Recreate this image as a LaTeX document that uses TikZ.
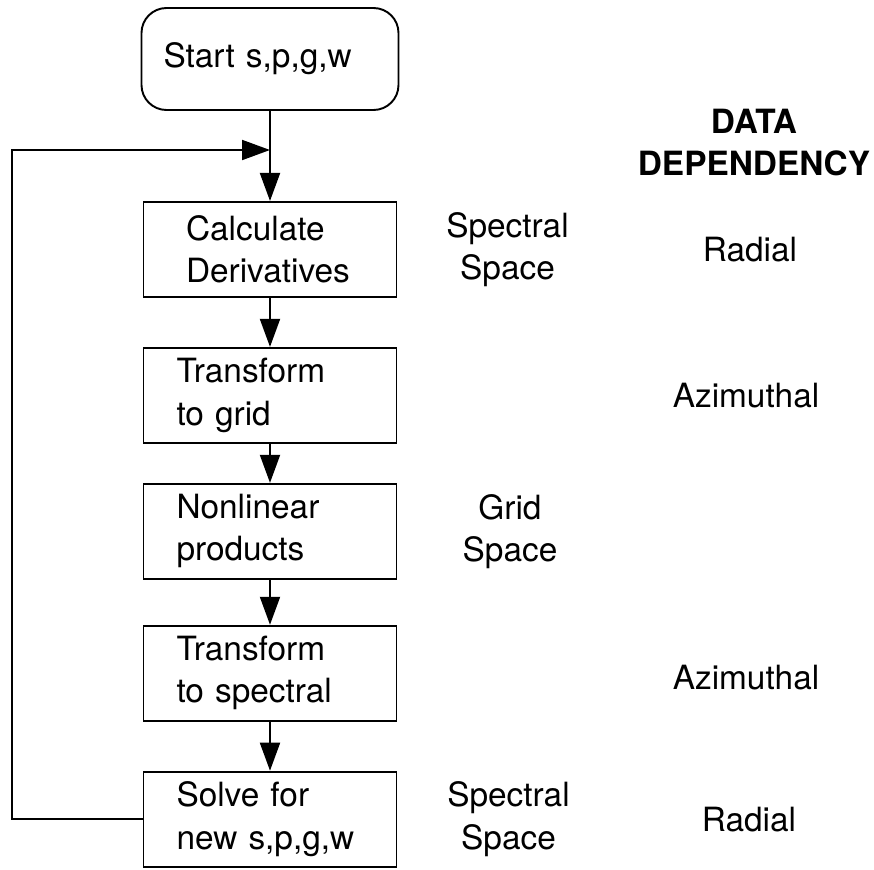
\documentclass[tikz,border=0pt]{standalone}
\usepackage{fontspec}
\setmainfont{TeX Gyre Heros}
\usetikzlibrary{arrows.meta,positioning}

\begin{document}
\begin{tikzpicture}[line width=1.1pt, >={Triangle[length=5.6mm,width=4mm]},
    every node/.style={font=\fontsize{19}{24}\selectfont},
    box/.style={draw, rectangle, align=left, minimum width=5.06cm, minimum height=1.9cm,
      inner xsep=0.66cm, text width=3.74cm},
    lbl/.style={align=center}]
  \useasboundingbox (0,0) rectangle (17.48,-17.4);

  \node[draw, rounded corners=0.5cm, align=left, minimum width=5.14cm, minimum height=2.04cm,
    inner xsep=0.44cm, text width=4.26cm] (start) at (5.4,-1.18) {Start s,p,g,w};
  \node[box, inner xsep=0.85cm, text width=3.36cm, below=1.8cm of start] (calc) {Calculate\\Derivatives};
  \node[box, below=0.98cm of calc] (trgrid) {Transform\\to grid};
  \node[box, below=0.78cm of trgrid] (prod) {Nonlinear\\products};
  \node[box, below=0.9cm of prod] (trspec) {Transform\\to spectral};
  \node[box, below=0.98cm of trspec] (solve) {Solve for\\new s,p,g,w};

  % space and dependency columns
  \node[lbl, font=\fontsize{19}{24}\selectfont\bfseries] (dep) at (15.08,-2.85) {DATA\\DEPENDENCY};
  \node[lbl, right of=calc, node distance=4.75cm] (spc1) {Spectral\\Space};
  \node[lbl, right of=calc, node distance=9.6cm] (rad1) {Radial};
  \node[lbl, right of=trgrid, node distance=9.52cm] (azi1) {Azimuthal};
  \node[lbl, right of=prod, node distance=4.8cm] (grid) {Grid\\Space};
  \node[lbl, right of=trspec, node distance=9.52cm, yshift=-0.08cm] (azi2) {Azimuthal};
  \node[lbl, right of=solve, node distance=4.77cm] (spc2) {Spectral\\Space};
  \node[lbl, right of=solve, node distance=9.58cm] (rad2) {Radial};

  \path[->]
    (start) edge (calc)
    (calc) edge (trgrid)
    (trgrid) edge (prod)
    (prod) edge (trspec)
    (trspec) edge (solve);

  % feedback loop
  \coordinate (back) at (0.24,-3.0);
  \coordinate (join) at (start.south |- back);
  \draw[->] (solve.west) -| (back) -- (join);
\end{tikzpicture}
\end{document}
